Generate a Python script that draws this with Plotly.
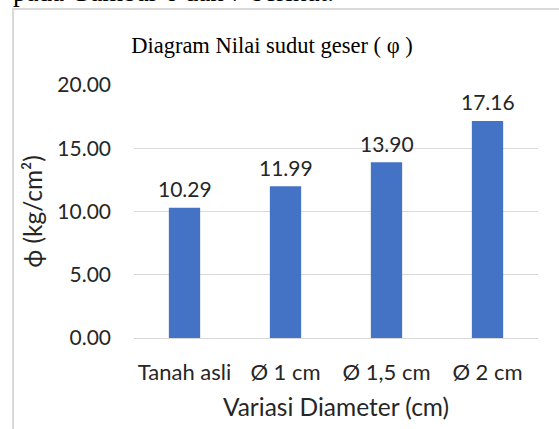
import plotly.graph_objects as go

categories = ["Tanah asli", "Ø 1 cm", "Ø 1,5 cm", "Ø 2 cm"]
values = [10.29, 11.99, 13.90, 17.16]
tick_vals = [0, 5, 10, 15, 20]
tick_text = ["0.00", "5.00", "10.00", "15.00", "20.00"]

title_text = "Diagram Nilai sudut geser ( φ )"
x_title = "Variasi Diameter (cm)"
y_title = "ϕ (kg/cm²)"
doc_text = "pada Gambar 6 dan 7 berikut."

W, H = 559, 429
ML, MR, MT, MB = 134, 21, 85, 91
SANS = "Lato"
SERIF = "Liberation Serif"

fig = go.Figure(
    go.Bar(
        x=categories,
        y=values,
        marker=dict(color="#4472C4", line=dict(width=0)),
        width=0.31,
        hoverinfo="skip",
    )
)

for c, v in zip(categories, values):
    fig.add_annotation(
        x=c, y=v, xref="x", yref="y",
        text=f"{v:.2f}", showarrow=False,
        yanchor="middle", yshift=19,
        font=dict(family=SANS, size=21, color="#262626"),
    )

pw = W - ML - MR
ph = H - MT - MB
# frame of the embedded chart (document border)
fig.add_shape(
    type="rect", xref="paper", yref="paper",
    x0=(13 - ML) / pw, x1=(W + 5 - ML) / pw,
    y0=-(H + 5 - MT - ph) / ph, y1=1 + (MT - 9) / ph,
    line=dict(color="#D9D9D9", width=2), fillcolor="rgba(0,0,0,0)",
    layer="below",
)
# partially visible document text above the chart
fig.add_annotation(
    xref="paper", yref="paper",
    x=(11 - ML) / pw, y=1 + (MT - 9) / ph,
    xanchor="left", yanchor="bottom",
    text=doc_text, showarrow=False,
    font=dict(family=SERIF, size=27, color="black"),
)

fig.update_layout(
    width=W, height=H,
    margin=dict(l=ML, r=MR, t=MT, b=MB, autoexpand=False),
    paper_bgcolor="white", plot_bgcolor="white",
    showlegend=False,
    title=dict(
        text=title_text, x=272 / W, xref="container", xanchor="center",
        y=1 - 45 / H, yref="container", yanchor="middle",
        font=dict(family=SERIF, size=22.5, color="black"),
    ),
    xaxis=dict(
        showgrid=False, showline=False, zeroline=False,
        tickfont=dict(family=SANS, size=22, color="#262626"),
        ticks="", ticklabelstandoff=19,
        title=dict(text=x_title, font=dict(family=SANS, size=24.5, color="#262626"), standoff=14),
        fixedrange=True,
    ),
    yaxis=dict(
        range=[0, 20],
        tickvals=tick_vals, ticktext=tick_text,
        showgrid=True, gridcolor="#D9D9D9", gridwidth=1,
        zeroline=True, zerolinecolor="#D9D9D9", zerolinewidth=1,
        showline=False, ticks="", ticklabelstandoff=22,
        tickfont=dict(family=SANS, size=21, color="#262626"),
        title=dict(text=y_title, font=dict(family=SANS, size=24.5, color="#262626"), standoff=7),
        fixedrange=True,
    ),
)

fig.write_html(
    "out.html",
    config={"displayModeBar": False, "staticPlot": True},
    post_script="document.body.style.margin='0';document.body.style.overflow='hidden';",
)
